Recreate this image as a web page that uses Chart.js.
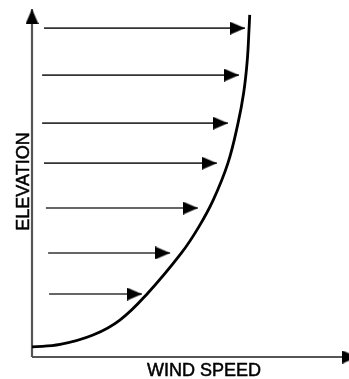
<!DOCTYPE html>
<html>
<head>
<meta charset="utf-8">
<script src="https://cdn.jsdelivr.net/npm/chart.js@4.4.1/dist/chart.umd.min.js"></script>
<style>
  html, body { margin: 0; padding: 0; background: #fff; }
  canvas { display: block; }
</style>
</head>
<body>
<canvas id="windChart" width="349" height="379"></canvas>
<script>
// wind profile: elevation of each arrow and the speed it reaches
var elevations = [9.45, 8.10, 6.72, 5.57, 4.28, 2.99, 1.81];
var arrowStart = [0.38, 0.32, 0.32, 0.38, 0.44, 0.51, 0.54];
var windSpeeds = [6.74, 6.55, 6.20, 5.85, 5.25, 4.37, 3.48];

// the profile curve itself
var profileSpeed = [0, 0.89, 1.93, 2.78, 3.67, 4.73, 5.26, 5.73, 6.20, 6.52, 6.70, 6.81, 6.87, 6.89];
var profileElevation = [0.29, 0.36, 0.63, 1.06, 1.84, 2.99, 3.71, 4.50, 5.57, 6.72, 7.60, 8.50, 9.45, 9.83];

var axisEnd = { x: 10.3, y: 10 };

// arrowhead pointing right, tip in the middle of the canvas
function makeArrowHead(len, wid) {
    var c = document.createElement('canvas');
    c.width = len * 2;
    c.height = wid;
    var g = c.getContext('2d');
    g.fillStyle = '#000';
    g.beginPath();
    g.moveTo(0, 0);
    g.lineTo(len, wid / 2);
    g.lineTo(0, wid);
    g.closePath();
    g.fill();
    return c;
}
var head = makeArrowHead(15, 13);

var datasets = [];

// profile curve
datasets.push({
    data: profileSpeed.map(function (s, i) { return { x: s, y: profileElevation[i] }; }),
    borderColor: '#000',
    borderWidth: 2.8,
    pointRadius: 0,
    tension: 0.4,
    clip: false
});

// horizontal wind arrows
elevations.forEach(function (e, i) {
    datasets.push({
        data: [{ x: arrowStart[i], y: e }, { x: windSpeeds[i], y: e }],
        borderColor: '#333',
        borderWidth: 1.6,
        pointRadius: [0, 15],
        pointStyle: head,
        pointRotation: 0,
        clip: false
    });
});

// axes with arrowheads
datasets.push({
    data: [{ x: 0, y: 0 }, { x: 0, y: axisEnd.y }],
    borderColor: '#555',
    borderWidth: 2.2,
    pointRadius: [0, 15],
    pointStyle: head,
    pointRotation: -90,
    clip: false
});
datasets.push({
    data: [{ x: 0, y: 0 }, { x: axisEnd.x, y: 0 }],
    borderColor: '#555',
    borderWidth: 2.2,
    pointRadius: [0, 15],
    pointStyle: head,
    pointRotation: 0,
    clip: false
});

function drawLabel(ctx, text, x, y) {
    ctx.fillText(text, x, y);
    ctx.strokeText(text, x, y);
}

var axisLabels = {
    id: 'axisLabels',
    afterDraw: function (chart) {
        var ctx = chart.ctx;
        ctx.save();
        ctx.fillStyle = '#000';
        ctx.strokeStyle = '#000';
        ctx.lineWidth = 0.5;
        ctx.font = '18px "Liberation Sans", Arial, sans-serif';
        ctx.textAlign = 'center';
        ctx.textBaseline = 'alphabetic';
        drawLabel(ctx, 'WIND SPEED', 204, 376);
        ctx.translate(28.5, 181.5);
        ctx.rotate(-Math.PI / 2);
        drawLabel(ctx, 'ELEVATION', 0, 0);
        ctx.restore();
    }
};

var ctx = document.getElementById('windChart').getContext('2d');
var windChart = new Chart(ctx, {
    type: 'line',
    data: { datasets: datasets },
    options: {
        responsive: false,
        animation: false,
        events: [],
        layout: {
            autoPadding: false,
            padding: { left: 32, right: 1, top: 9, bottom: 22 }
        },
        plugins: {
            legend: { display: false },
            tooltip: { enabled: false }
        },
        scales: {
            x: { type: 'linear', min: 0, max: 10, display: false },
            y: { type: 'linear', min: 0, max: 10, display: false }
        }
    },
    plugins: [axisLabels]
});
</script>
</body>
</html>
